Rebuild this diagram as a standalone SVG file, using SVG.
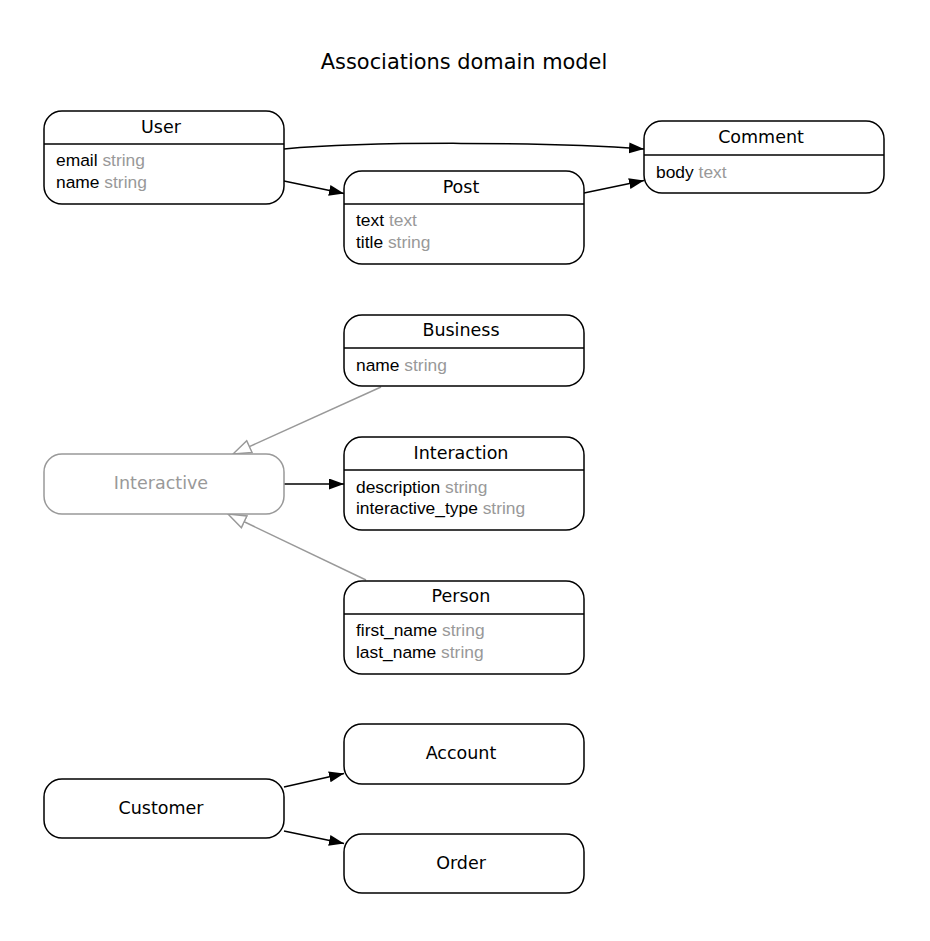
<svg xmlns="http://www.w3.org/2000/svg" width="930" height="941" viewBox="0 0 930 941">
<style>
.bg{fill:#ffffff}
.box{fill:#ffffff;stroke:#000000;stroke-width:1.5}
.abox{fill:#ffffff;stroke:#999999;stroke-width:1.5}
.div{stroke:#000000;stroke-width:1.5}
.ttl{font-family:"DejaVu Sans",sans-serif;font-size:17.5px;fill:#000000;text-anchor:middle}
.attl{font-family:"DejaVu Sans",sans-serif;font-size:17.5px;fill:#999999;text-anchor:middle}
.att{font-family:"Liberation Sans",Arial,sans-serif;font-size:17.4px;fill:#000000}
.typ{fill:#999999}
.head{font-family:"DejaVu Sans",sans-serif;font-size:20.9px;fill:#000000;text-anchor:middle}
.e{fill:none;stroke:#000000;stroke-width:1.5}
.g{fill:none;stroke:#999999;stroke-width:1.5}
</style>
<defs>
<marker id="arr" markerUnits="userSpaceOnUse" markerWidth="16" markerHeight="12" refX="15" refY="5.5" orient="auto" viewBox="0 0 16 12">
<path d="M0,0 L15,5.5 L0,11 z" fill="#000000"/>
</marker>
<marker id="hollow" markerUnits="userSpaceOnUse" markerWidth="22" markerHeight="18" refX="1" refY="8" orient="auto" viewBox="0 0 22 18">
<path d="M1,1.5 L19,8 L1,14.5 z" fill="#ffffff" stroke="#999999" stroke-width="1.5"/>
</marker>
</defs>
<rect class="bg" x="0" y="0" width="930" height="941"/>
<text class="head" x="464" y="69">Associations domain model</text>

<g id="connectors">
<path class="e" d="M284,149 C370,141 550,142 644,149" marker-end="url(#arr)"/>
<path class="e" d="M284,181 L344,193.5" marker-end="url(#arr)"/>
<path class="e" d="M584,193 L644,180.5" marker-end="url(#arr)"/>
<path class="e" d="M284,484 L344,484" marker-end="url(#arr)"/>
<path class="e" d="M284,787 L344,773.5" marker-end="url(#arr)"/>
<path class="e" d="M284,831 L344,843.5" marker-end="url(#arr)"/>
<path class="g" d="M381,387 L249.4,446.6" marker-end="url(#hollow)"/>
<path class="g" d="M366,580 L244.2,521.8" marker-end="url(#hollow)"/>
</g>

<g id="node-user">
<rect class="box" x="44" y="111" width="240" height="93" rx="18" ry="18"/>
<line class="div" x1="44" y1="144" x2="284" y2="144"/>
<text class="ttl" x="161" y="133">User</text>
<text class="att" x="56" y="166">email <tspan class="typ">string</tspan></text>
<text class="att" x="56" y="188">name <tspan class="typ">string</tspan></text>
</g>

<g id="node-post">
<rect class="box" x="344" y="171" width="240" height="93" rx="18" ry="18"/>
<line class="div" x1="344" y1="204" x2="584" y2="204"/>
<text class="ttl" x="461" y="193">Post</text>
<text class="att" x="356" y="226">text <tspan class="typ">text</tspan></text>
<text class="att" x="356" y="248">title <tspan class="typ">string</tspan></text>
</g>

<g id="node-comment">
<rect class="box" x="644" y="121" width="240" height="72" rx="18" ry="18"/>
<line class="div" x1="644" y1="155" x2="884" y2="155"/>
<text class="ttl" x="761" y="143">Comment</text>
<text class="att" x="656" y="178">body <tspan class="typ">text</tspan></text>
</g>

<g id="node-business">
<rect class="box" x="344" y="315" width="240" height="71" rx="18" ry="18"/>
<line class="div" x1="344" y1="348" x2="584" y2="348"/>
<text class="ttl" x="461" y="336">Business</text>
<text class="att" x="356" y="371">name <tspan class="typ">string</tspan></text>
</g>

<g id="node-interactive">
<rect class="abox" x="44" y="454" width="240" height="60" rx="18" ry="18"/>
<text class="attl" x="161" y="489">Interactive</text>
</g>

<g id="node-interaction">
<rect class="box" x="344" y="437" width="240" height="93" rx="18" ry="18"/>
<line class="div" x1="344" y1="470" x2="584" y2="470"/>
<text class="ttl" x="461" y="459">Interaction</text>
<text class="att" x="356" y="493">description <tspan class="typ">string</tspan></text>
<text class="att" x="356" y="514">interactive_type <tspan class="typ">string</tspan></text>
</g>

<g id="node-person">
<rect class="box" x="344" y="581" width="240" height="93" rx="18" ry="18"/>
<line class="div" x1="344" y1="614" x2="584" y2="614"/>
<text class="ttl" x="461" y="602">Person</text>
<text class="att" x="356" y="636">first_name <tspan class="typ">string</tspan></text>
<text class="att" x="356" y="658">last_name <tspan class="typ">string</tspan></text>
</g>

<g id="node-account">
<rect class="box" x="344" y="724" width="240" height="60" rx="18" ry="18"/>
<text class="ttl" x="461" y="759">Account</text>
</g>

<g id="node-customer">
<rect class="box" x="44" y="779" width="240" height="59" rx="18" ry="18"/>
<text class="ttl" x="161" y="814">Customer</text>
</g>

<g id="node-order">
<rect class="box" x="344" y="834" width="240" height="59" rx="18" ry="18"/>
<text class="ttl" x="461" y="869">Order</text>
</g>
</svg>
